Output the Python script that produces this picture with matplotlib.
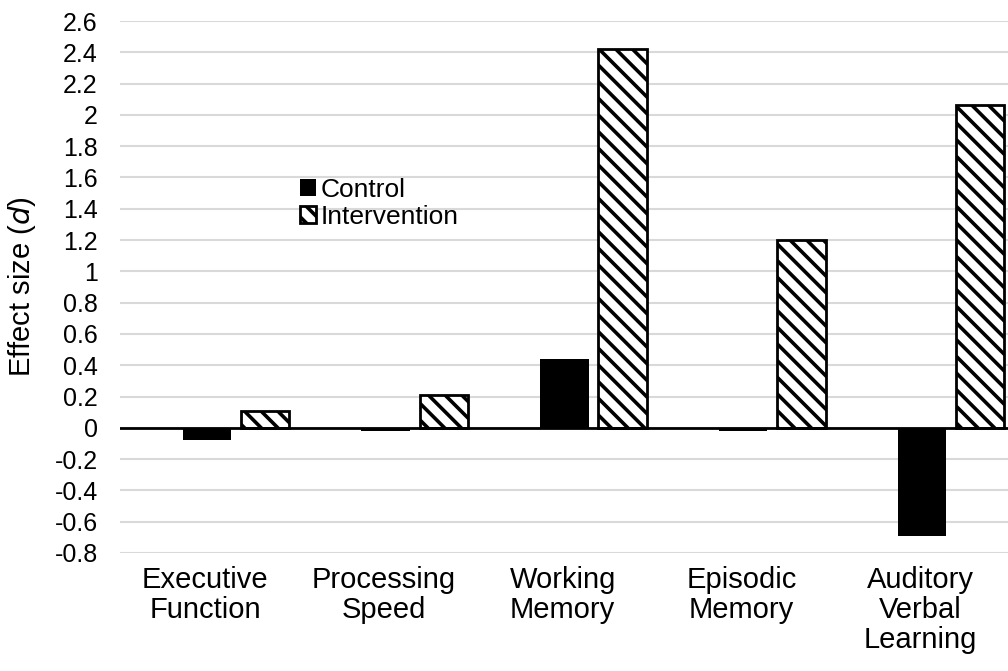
import numpy as np
import matplotlib
matplotlib.use("Agg")
import matplotlib.pyplot as plt

plt.rcParams["font.family"] = ["Liberation Sans", "DejaVu Sans"]
plt.rcParams["hatch.linewidth"] = 2.6

categories = ["Executive\nFunction", "Processing\nSpeed", "Working\nMemory",
              "Episodic\nMemory", "Auditory\nVerbal\nLearning"]
control = [-0.08, -0.02, 0.44, -0.02, -0.69]
intervention = [0.11, 0.21, 2.42, 1.20, 2.06]
yticks = [-0.8, -0.6, -0.4, -0.2, 0, 0.2, 0.4, 0.6, 0.8, 1, 1.2, 1.4, 1.6,
          1.8, 2, 2.2, 2.4, 2.6]

fig = plt.figure(figsize=(10.08, 6.71), dpi=100)
ax = fig.add_axes([120 / 1008, 1 - 553 / 671, 888 / 1008, 532 / 671])

x = np.arange(len(categories))
w = 0.27
ax.bar(x + 0.01, control, width=w, color="black", label="Control", zorder=3)
ax.bar(x + 0.335, intervention, width=w, color="white", edgecolor="black",
       linewidth=2, hatch="\\\\", label="Intervention", zorder=3)

ax.set_xlim(-0.475, 4.49)
ax.set_ylim(-0.8, 2.6)
ax.set_yticks(yticks)
ax.set_yticklabels([f"{v:g}" for v in yticks])
ax.yaxis.grid(True, color="#d9d9d9", linewidth=1.5, zorder=0)
ax.set_axisbelow(True)
ax.axhline(0, color="black", linewidth=2, zorder=4)
for s in ax.spines.values():
    s.set_visible(False)

ax.set_xticks(x)
ax.set_xticklabels(categories, fontsize=21, linespacing=1.1, va="top")
ax.tick_params(axis="x", length=0, pad=9)
ax.tick_params(axis="y", length=0, pad=16, labelsize=18)

ax.set_ylabel("Effect size ($\\it{d}$)", fontsize=21, va="center")
ax.yaxis.set_label_coords(-98 / 888, 0.5)

ax.legend(loc="upper left", bbox_to_anchor=(300 / 1008, 1 - 178 / 671),
          bbox_transform=fig.transFigure, frameon=False, fontsize=19,
          handlelength=0.6, handleheight=0.6, handletextpad=0.2,
          labelspacing=0.1, borderpad=0, borderaxespad=0)

fig.savefig("out.png", dpi=100)
